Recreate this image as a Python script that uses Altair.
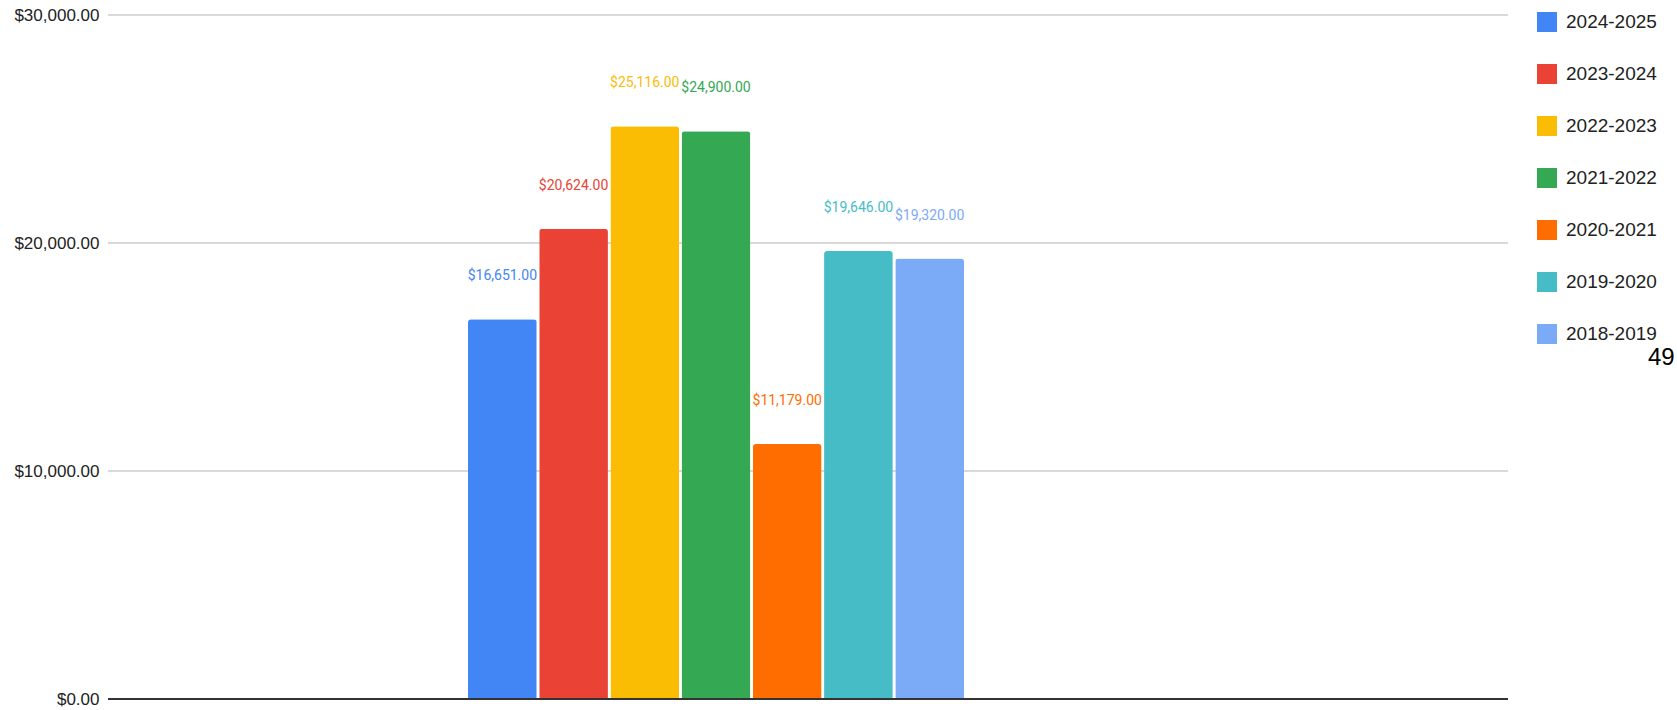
import altair as alt
import pandas as pd

seasons = ["2024-2025", "2023-2024", "2022-2023", "2021-2022", "2020-2021", "2019-2020", "2018-2019"]
amounts = [16651, 20624, 25116, 24900, 11179, 19646, 19320]
colors = ["#4285F4", "#EA4335", "#FBBC04", "#34A853", "#FF6D01", "#46BDC6", "#7BAAF7"]
y_ticks = [0, 10000, 20000, 30000]
page_note = ["49"]

SANS = "Liberation Sans, Arial, sans-serif"

df = pd.DataFrame({"season": seasons, "amount": amounts})

x_enc = alt.X(
    "season:N",
    sort=seasons,
    scale=alt.Scale(domain=seasons, paddingInner=0.035, paddingOuter=0, range=[360, 856]),
    axis=alt.Axis(labels=False, ticks=False, title=None, domain=False, grid=False),
)
y_enc = alt.Y(
    "amount:Q",
    scale=alt.Scale(domain=[0, 30000]),
    axis=alt.Axis(values=y_ticks, format="$,.2f", title=None, domain=False, ticks=False,
                  labelPadding=9, labelFont=SANS, labelFontSize=17, labelColor="#222222",
                  grid=False),
)
color_enc = alt.Color(
    "season:N",
    scale=alt.Scale(domain=seasons, range=colors),
    legend=alt.Legend(title=None, orient="none", legendX=1429, legendY=-3,
                      symbolType="square", symbolSize=400, symbolStrokeWidth=0,
                      symbolOpacity=1, labelFont=SANS, labelFontSize=19,
                      labelColor="#222222", rowPadding=32, labelOffset=9),
)

grid = alt.Chart(pd.DataFrame({"v": y_ticks[1:]})).mark_rule(color="#cccccc", strokeWidth=1.5).encode(
    y=alt.Y("v:Q"), x=alt.value(0), x2=alt.value(1400)
)
bars = alt.Chart(df).mark_bar(cornerRadiusTopLeft=3, cornerRadiusTopRight=3).encode(
    x=x_enc, y=y_enc, color=color_enc
)
labels = alt.Chart(df).mark_text(baseline="middle", dy=-43, font="Roboto", fontSize=14).encode(
    x=alt.X("season:N", sort=seasons),
    y=alt.Y("amount:Q"),
    text=alt.Text("amount:Q", format="$,.2f"),
    color=alt.Color("season:N"),
)
baseline = alt.Chart(pd.DataFrame({"v": [0]})).mark_rule(color="#333333", strokeWidth=2).encode(
    y=alt.Y("v:Q"), x=alt.value(0), x2=alt.value(1400)
)
note = alt.Chart(pd.DataFrame({"t": page_note})).mark_text(
    align="left", baseline="middle", fontSize=24, font="Liberation Sans", color="black"
).encode(x=alt.value(1540), y=alt.value(343), text="t:N")

chart = (
    alt.layer(grid, bars, baseline, labels, note)
    .properties(width=1400, height=684, background="white",
                autosize=alt.AutoSizeParams(type="none"),
                padding={"left": 108, "top": 15, "right": 169, "bottom": 11})
    .configure_view(stroke=None)
)

chart.save("out.html", embed_options={"renderer": "svg", "actions": False})
